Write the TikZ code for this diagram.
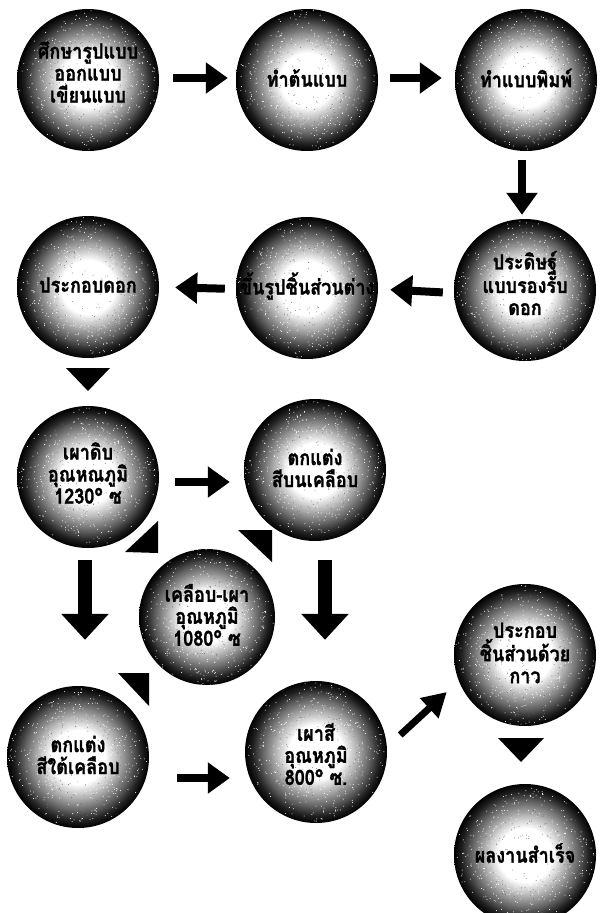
\documentclass[tikz,border=0pt]{standalone}
\usepackage{fontspec}
\newfontfamily\thaifont[Script=Thai, FakeStretch=0.86, FakeBold=1.2]{Loma}
\usetikzlibrary{arrows.meta,calc}
\pgfdeclareradialshading{ballshade}{\pgfpoint{0bp}{0bp}}{color(0bp)=(white); color(9.5bp)=(white); color(14bp)=(black!28); color(19bp)=(black!62); color(22.5bp)=(black!88); color(25bp)=(black); color(50bp)=(black)}
\newcommand\grainball[1]{%
  \fill[white] \foreach \i in {1,...,350}{ ([shift={({360*rnd}:{70*(0.40+0.60*rnd)})}]#1) circle (0.5) };
  \fill[black!55] \foreach \i in {1,...,200}{ ([shift={({360*rnd}:{62*sqrt(rnd)})}]#1) circle (0.45) };
}
\begin{document}
\begin{tikzpicture}[x=1pt,y=-1pt,
  ball/.style={circle, minimum size=142pt, inner sep=0pt, shading=ballshade},
  balltext/.style={font=\thaifont\bfseries\fontsize{21}{22}\selectfont, align=center, inner sep=0pt},
  bigarrow/.style={line width=8pt, -{Triangle[length=22pt,width=30pt]}},
  vertarrow/.style={line width=14pt, -{Triangle[length=26pt,width=46pt]}},
  diagarrow/.style={line width=7pt, -{Triangle[length=24pt,width=26pt]}},
  headonly/.style={fill=black}]
\useasboundingbox (0,0) rectangle (600,913);
\fill[white] (0,0) rectangle (600,913);
\pgfmathsetseed{4242}

\node[ball] (c1) at (88,80) {};
\node[ball] (c2) at (307,80) {};
\node[ball] (c3) at (526,80) {};
\node[ball] (c4) at (525,290) {};
\node[ball] (c5) at (307,288) {};
\node[ball] (c6) at (88,287) {};
\node[ball] (c7) at (88,477) {};
\node[ball] (c8) at (315,470) {};
\node[ball, minimum size=136pt] (c9) at (207,617) {};
\node[ball] (c10) at (78,757) {};
\node[ball] (c11) at (316,752) {};
\node[ball] (c12) at (525,655) {};
\node[ball] (c13) at (525,855) {};

\foreach \c in {c1,c2,c3,c4,c5,c6,c7,c8,c9,c10,c11,c12,c13}{\grainball{\c}}

\node[balltext] (t1) at ([yshift=8]c1) {ศึกษารูปแบบ\\ออกแบบ\\เขียนแบบ};
\node[balltext] (t2) at ([yshift=2]c2) {ทำต้นแบบ};
\node[balltext] (t3) at ([yshift=2]c3) {ทำแบบพิมพ์};
\node[balltext] (t4) at ([yshift=7]c4) {ประดิษฐ์\\แบบรองรับ\\ดอก};
\node[balltext] (t5) at ([yshift=2]c5) {ขึ้นรูปชิ้นส่วนต่าง};
\node[balltext] (t6) at ([yshift=2]c6) {ประกอบดอก};
\node[balltext] (t7) at ([yshift=4]c7) {เผาดิบ\\อุณหณภูมิ\\1230° ซ};
\node[balltext] (t8) at ([yshift=2]c8) {ตกแต่ง\\สีบนเคลือบ};
\node[balltext] (t9) at ([yshift=2]c9) {เคลือบ-เผา\\อุณหภูมิ\\1080° ซ};
\node[balltext] (t10) at ([yshift=2]c10) {ตกแต่ง\\สีใต้เคลือบ};
\node[balltext] (t11) at ([yshift=-2]c11) {เผาสี\\อุณหภูมิ\\800° ซ.};
\node[balltext] (t12) at ([yshift=2]c12) {ประกอบ\\ชิ้นส่วนด้วย\\กาว};
\node[balltext] (t13) at ([yshift=2]c13) {ผลงานสำเร็จ};

% arrows
\draw[bigarrow, shorten <=14pt, shorten >=8pt] ([yshift=2]c1.east) -- ([yshift=2]c2.west);
\draw[bigarrow, shorten <=12pt, shorten >=13pt] ([yshift=2]c2.east) -- ([yshift=2]c3.west);
\draw[bigarrow, shorten <=9pt, shorten >=4pt] ([xshift=-4]c3.south) -- ([xshift=-3]c4.north);
\draw[bigarrow, shorten <=11pt, shorten >=12pt] ([yshift=-3]c4.west) -- ([yshift=-1]c5.east);
\draw[bigarrow, shorten <=11pt, shorten >=16pt] ([yshift=-1]c5.west) -- (c6.east);
\coordinate (m67) at ($(c6)!0.5!(c7)$);
\fill[headonly] (m67) ++(-22,-14) -- ++(44,0) -- ++(-22,23) -- cycle;
\draw[bigarrow] ([shift={(16,5)}]c7.east) -- ([shift={(-14,12)}]c8.west);
\draw[vertarrow] ([shift={(-3,12)}]c7.south) -- ([shift={(7,-46)}]c10.north);
\draw[vertarrow] ([shift={(10,19)}]c8.south) -- ([shift={(9,-41)}]c11.north);
\draw[bigarrow] ([shift={(28,21)}]c10.east) -- ([shift={(-15,26)}]c11.west);
\draw[diagarrow] ([shift={(13,-17)}]c11.east) -- ([shift={(-7,37)}]c12.west);
\coordinate (m1213) at ($(c12)!0.5!(c13)$);
\fill[headonly] (m1213) ++(-27,-17) -- ++(46,0) -- ++(-23,24) -- cycle;
% corner triangles around c9
\fill[headonly] (c9) ++(-49,-96) -- ++(-33,31) -- ++(33,1) -- cycle;
\fill[headonly] (c9) ++(31,-87) -- ++(34,0) -- ++(0,32) -- cycle;
\fill[headonly] (c9) ++(-89,56) -- ++(31,0) -- ++(0,33) -- cycle;
\end{tikzpicture}
\end{document}
